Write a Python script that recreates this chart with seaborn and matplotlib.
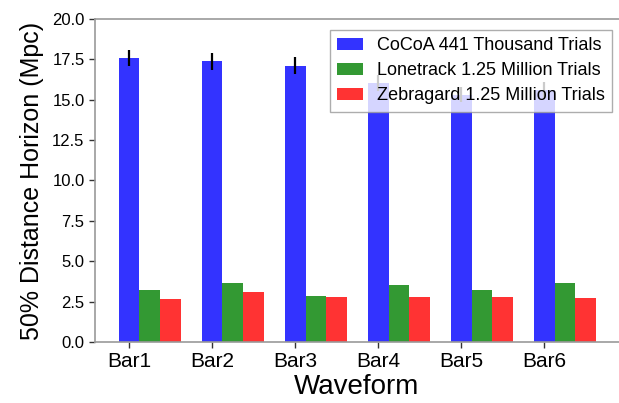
import matplotlib
matplotlib.use("Agg")
import matplotlib.pyplot as plt
import seaborn as sns
import pandas as pd

# -----------------------------
# Data
# -----------------------------
waveforms = ["Bar1", "Bar2", "Bar3", "Bar4", "Bar5", "Bar6"]
series = [
    "CoCoA 441 Thousand Trials",
    "Lonetrack 1.25 Million Trials",
    "Zebragard 1.25 Million Trials",
]
cocoa = [17.57, 17.38, 17.12, 16.03, 15.3, 15.6]
cocoa_err = [0.48, 0.52, 0.50, 0.50, 0.47, 0.50]
lonetrack = [3.22, 3.63, 2.84, 3.52, 3.22, 3.63]
zebragard = [2.66, 3.07, 2.80, 2.76, 2.76, 2.72]

colors = ["#3333ff", "#339933", "#ff3333"]

df = pd.DataFrame({
    "Waveform": waveforms * 3,
    "Horizon": cocoa + lonetrack + zebragard,
    "Search": [s for s in series for _ in waveforms],
})

# -----------------------------
# Plot
# -----------------------------
sns.set_style("white")
plt.rcParams["font.family"] = ["Liberation Sans", "DejaVu Sans"]
plt.rcParams["text.color"] = "black"
plt.rcParams["axes.labelcolor"] = "black"
plt.rcParams["xtick.color"] = "black"
plt.rcParams["ytick.color"] = "black"

fig = plt.figure(figsize=(6.19, 4.03), dpi=100)
ax = fig.add_axes([95 / 619, 61 / 403, 524 / 619, 323 / 403])

sns.barplot(
    data=df, x="Waveform", y="Horizon", hue="Search",
    palette=colors, width=0.75, gap=0, errorbar=None,
    saturation=1, linewidth=0, ax=ax,
)

# blue bars sit at i - 0.25 with this dodge
blue_x = [i - 0.25 for i in range(len(waveforms))]
ax.errorbar(blue_x, cocoa, yerr=cocoa_err, fmt="none",
            ecolor="black", elinewidth=1.6, capsize=0, zorder=3)

ax.set_xticks(blue_x)
ax.set_xticklabels(waveforms, fontsize=15)
ax.set_xlim(-0.66, 5.65)
ax.set_ylim(0, 20)
ax.set_yticks([0, 2.5, 5, 7.5, 10, 12.5, 15, 17.5, 20])
ax.set_yticklabels([f"{v:.1f}" for v in ax.get_yticks()], fontsize=12)
ax.tick_params(axis="both", direction="out", length=4, width=1,
               color="#333333", bottom=True, left=True)

for side in ["left", "bottom", "top"]:
    ax.spines[side].set_color("#999999")
    ax.spines[side].set_linewidth(1.2)
ax.spines["right"].set_visible(False)

ax.set_xlabel("Waveform", fontsize=20, labelpad=2)
ax.set_ylabel("50% Distance Horizon (Mpc)", fontsize=18, labelpad=6)

leg = ax.legend(loc="upper right", fontsize=13, frameon=True, fancybox=False,
                framealpha=0.8, edgecolor="#999999", handlelength=1.4,
                borderpad=0.4, labelspacing=0.45, borderaxespad=0,
                bbox_to_anchor=(0.987, 0.966))
leg.get_frame().set_linewidth(1.0)

plt.savefig("out.png", dpi=100)
